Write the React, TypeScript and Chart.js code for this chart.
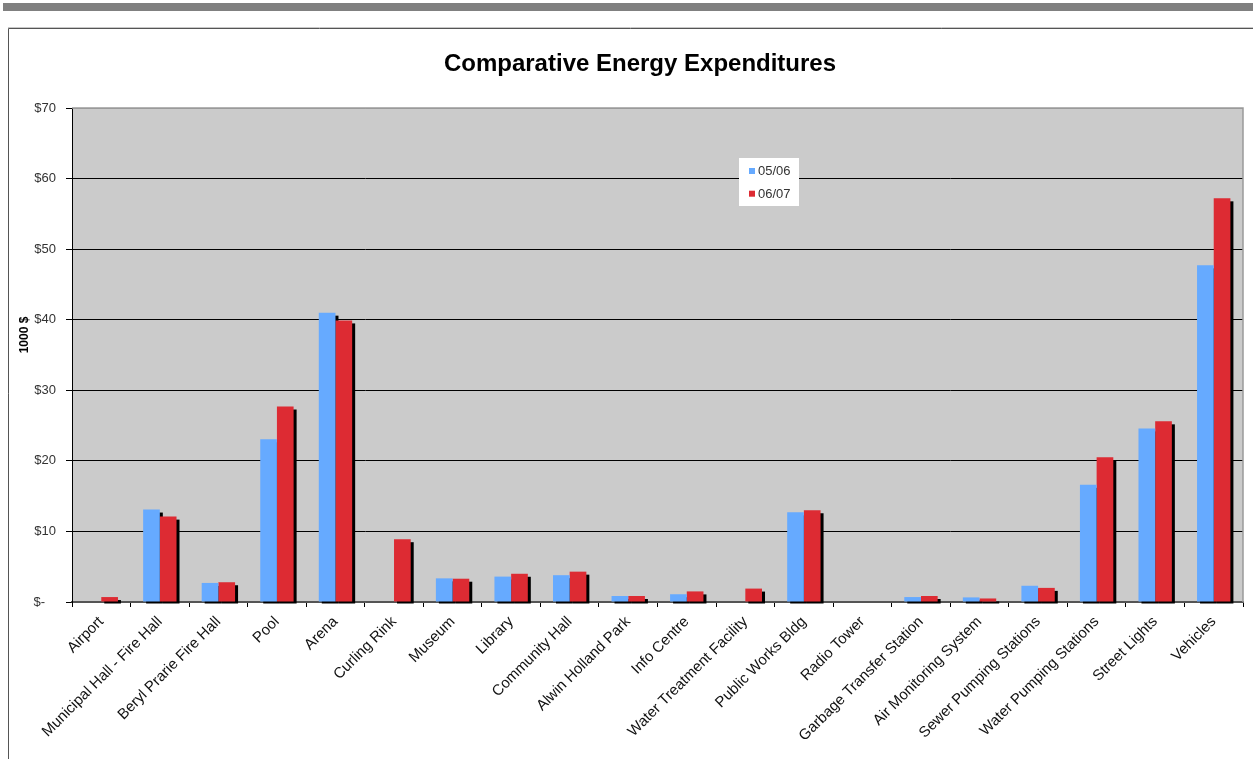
import React, { useEffect, useRef } from "react";
import { Chart, registerables } from "chart.js";

Chart.register(...registerables);

const categories = [
  "Airport",
  "Municipal Hall - Fire Hall",
  "Beryl Prarie Fire Hall",
  "Pool",
  "Arena",
  "Curling Rink",
  "Museum",
  "Library",
  "Community Hall",
  "Alwin Holland Park",
  "Info Centre",
  "Water Treatment Facility",
  "Public Works Bldg",
  "Radio Tower",
  "Garbage Transfer Station",
  "Air Monitoring System",
  "Sewer Pumping Stations",
  "Water Pumping Stations",
  "Street Lights",
  "Vehicles",
];

const series0506 = [0, 13.1, 2.7, 23.05, 41.0, 0, 3.35, 3.6, 3.8, 0.85, 1.1, 0, 12.7, 0, 0.7, 0.65, 2.3, 16.6, 24.6, 47.7];
const series0607 = [0.7, 12.1, 2.8, 27.7, 39.9, 8.9, 3.3, 4.0, 4.3, 0.85, 1.5, 1.9, 13.0, 0, 0.85, 0.5, 2.0, 20.5, 25.6, 57.2];

const seriesLabels = ["05/06", "06/07"];
const seriesColors = ["#66aaff", "#dd2b33"];
const yTickValues = [0, 10, 20, 30, 40, 50, 60, 70];

const chartTitle = "Comparative Energy Expenditures";
const yAxisTitle = "1000 $";

const FONT = "'Liberation Sans', Arial, sans-serif";

const framePlugin = {
  id: "frame",
  beforeDraw(chart: any) {
    const { ctx, chartArea } = chart;
    ctx.save();
    // top grey bar
    ctx.fillStyle = "#808080";
    ctx.fillRect(3, 3, 1250, 8);
    // border box
    ctx.strokeStyle = "#c8c8c8";
    ctx.lineWidth = 1;
    ctx.beginPath();
    ctx.moveTo(8, 27.5);
    ctx.lineTo(1253, 27.5);
    ctx.stroke();
    ctx.strokeStyle = "#555";
    ctx.beginPath();
    ctx.moveTo(8.5, 759);
    ctx.lineTo(8.5, 28.5);
    ctx.lineTo(1253, 28.5);
    ctx.stroke();
    // plot background
    ctx.fillStyle = "#cbcbcb";
    ctx.fillRect(chartArea.left, chartArea.top, chartArea.right - chartArea.left, chartArea.bottom - chartArea.top);
    ctx.restore();
  },
  beforeDatasetsDraw(chart: any) {
    const { ctx } = chart;
    ctx.save();
    ctx.fillStyle = "#000";
    chart.data.datasets.forEach((ds: any, di: number) => {
      const meta = chart.getDatasetMeta(di);
      meta.data.forEach((bar: any, i: number) => {
        const v = ds.data[i];
        if (!v) return;
        const p = bar.getProps(["x", "y", "base", "width"], true);
        const left = p.x - p.width / 2;
        ctx.fillRect(left + 3, p.y + 3, p.width, p.base - p.y - 1);
      });
    });
    ctx.restore();
  },
  afterDraw(chart: any) {
    const { ctx, chartArea } = chart;
    ctx.save();
    // plot border top/right
    ctx.strokeStyle = "#9a9a9a";
    ctx.lineWidth = 1.5;
    ctx.beginPath();
    ctx.moveTo(chartArea.left, chartArea.top);
    ctx.lineTo(chartArea.right, chartArea.top);
    ctx.lineTo(chartArea.right, chartArea.bottom);
    ctx.stroke();

    // title
    ctx.fillStyle = "#000";
    ctx.font = `bold 24px ${FONT}`;
    ctx.textAlign = "center";
    ctx.textBaseline = "middle";
    ctx.fillText(chartTitle, 640, 64);

    // y axis title
    ctx.save();
    ctx.translate(25, 335);
    ctx.rotate(-Math.PI / 2);
    ctx.font = `bold 12px ${FONT}`;
    ctx.fillText(yAxisTitle, 0, 0);
    ctx.restore();

    // legend
    ctx.fillStyle = "#fff";
    ctx.fillRect(739, 158, 60, 48);
    ctx.font = `13px ${FONT}`;
    ctx.textAlign = "left";
    ctx.textBaseline = "middle";
    chart.data.datasets.forEach((ds: any, i: number) => {
      const cy = 171 + i * 22.7;
      ctx.fillStyle = ds.backgroundColor;
      ctx.fillRect(749, cy - 3, 6, 6);
      ctx.fillStyle = "#333";
      ctx.fillText(ds.label, 758, cy + 0.5);
    });
    ctx.restore();
  },
};

export default function App() {
  const ref = useRef<HTMLCanvasElement | null>(null);

  useEffect(() => {
    if (!ref.current) return;
    const chart = new Chart(ref.current, {
      type: "bar",
      data: {
        labels: categories,
        datasets: [
          {
            label: seriesLabels[0],
            data: series0506,
            backgroundColor: seriesColors[0],
            barPercentage: 1.0,
            categoryPercentage: 0.57,
          },
          {
            label: seriesLabels[1],
            data: series0607,
            backgroundColor: seriesColors[1],
            barPercentage: 1.0,
            categoryPercentage: 0.57,
          },
        ],
      },
      options: {
        responsive: false,
        animation: false,
        devicePixelRatio: 1,
        layout: { padding: { top: 108, right: 10, left: 0, bottom: 0 } },
        plugins: {
          legend: { display: false },
          title: { display: false },
          tooltip: { enabled: false },
        },
        scales: {
          x: {
            afterFit(scale: any) {
              scale.height = 157;
            },
            grid: {
              drawOnChartArea: false,
              drawTicks: true,
              tickLength: 5,
              color: "#000",
              offset: true,
            },
            border: { display: true, color: "#555", width: 1.5 },
            ticks: {
              autoSkip: false,
              maxRotation: 45,
              minRotation: 45,
              padding: 6,
              color: "#111",
              font: { family: FONT, size: 15 },
            },
          },
          y: {
            min: 0,
            max: 70,
            afterFit(scale: any) {
              scale.width = 72;
            },
            afterBuildTicks(scale: any) {
              scale.ticks = yTickValues.map((v) => ({ value: v }));
            },
            grid: {
              color: (c: any) => (c.tick && c.tick.value === 70 ? "#9a9a9a" : c.tick && c.tick.value === 0 ? "#555" : "#000"),
              tickColor: "#000",
              lineWidth: 1,
              drawTicks: true,
              tickLength: 6,
            },
            border: { display: true, color: "#000", width: 1 },
            ticks: {
              padding: 10,
              color: "#333",
              font: { family: FONT, size: 13 },
              callback: (v: any) => (v === 0 ? "$-   " : "$" + v),
            },
          },
        },
      },
      plugins: [framePlugin],
    });
    return () => chart.destroy();
  }, []);

  return (
    <div style={{ position: "absolute", left: 0, top: 0, width: 1253, height: 759, background: "#fff" }}>
      <canvas ref={ref} width={1253} height={759} style={{ display: "block" }} />
    </div>
  );
}
